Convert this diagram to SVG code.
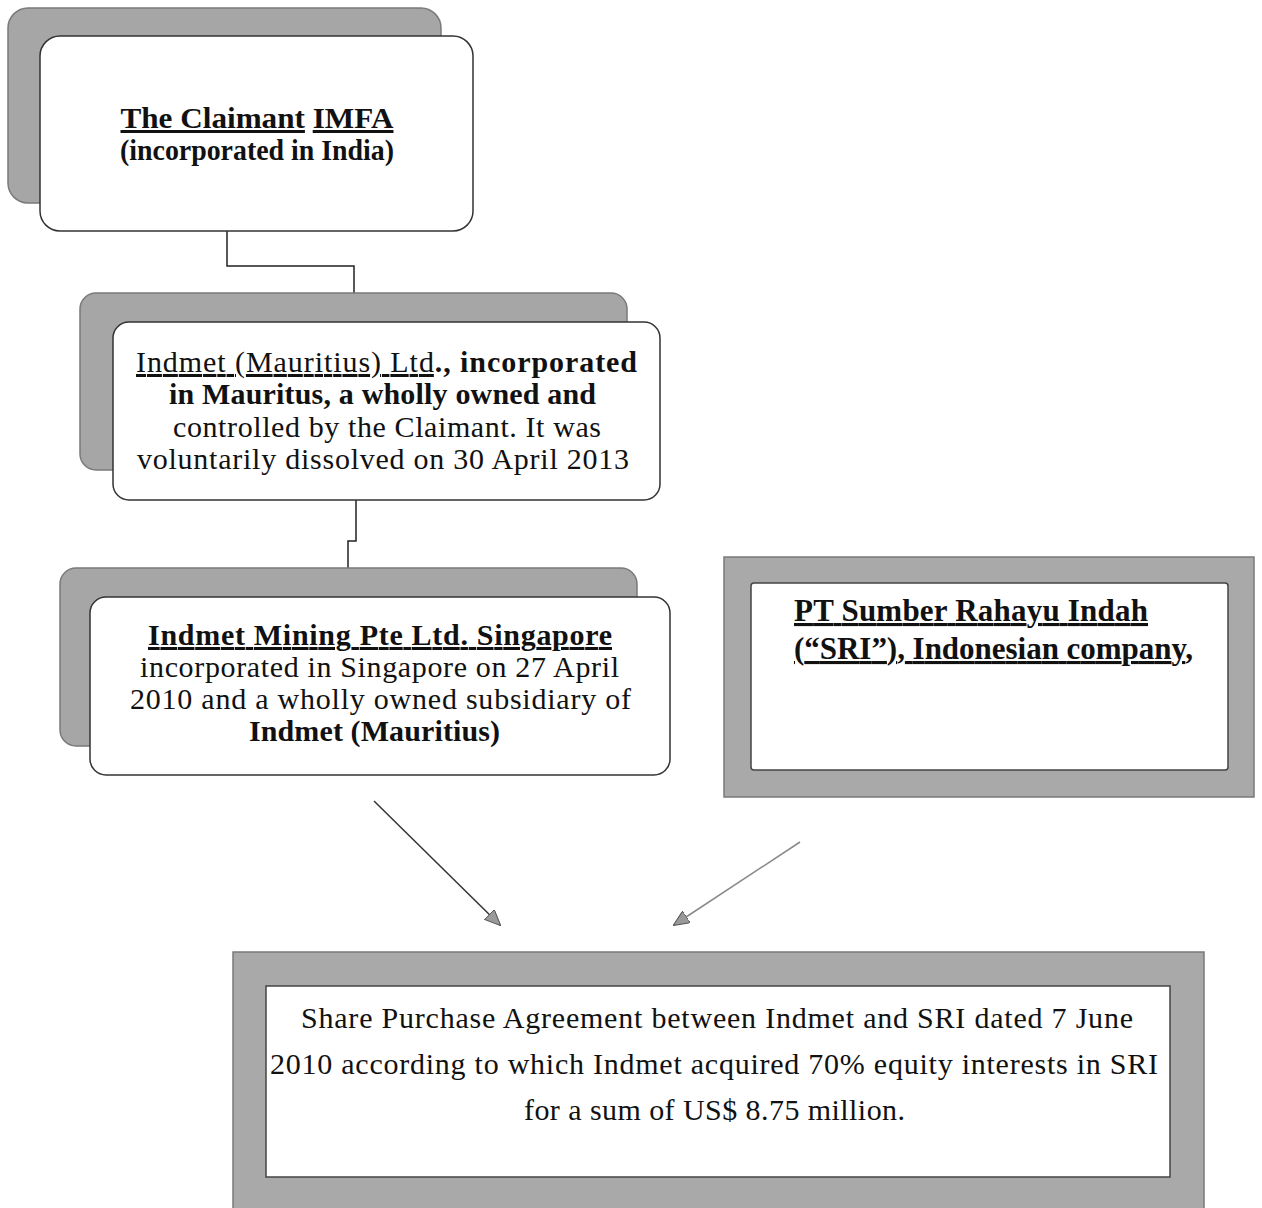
<svg xmlns="http://www.w3.org/2000/svg" width="1262" height="1208" viewBox="0 0 1262 1208">
<style>
  .shadow { fill: #a6a6a6; stroke: #7a7a7a; stroke-width: 1.5; }
  .card { fill: #ffffff; stroke: #333333; stroke-width: 1.5; }
  .frame { fill: #a9a9a9; stroke: #7a7a7a; stroke-width: 1.5; }
  .inner { fill: #ffffff; stroke: #444444; stroke-width: 1.5; }
  text { fill: #111111; }
  .conn { fill: none; stroke: #222222; stroke-width: 1.5; }
</style>
<defs>
  <marker id="ah" viewBox="0 0 16 14" refX="15" refY="7" markerWidth="16" markerHeight="14" markerUnits="userSpaceOnUse" orient="auto">
    <path d="M0,0 L16,7 L0,14 Z" fill="#9a9a9a" stroke="#555555" stroke-width="1"/>
  </marker>
</defs>

<rect width="1262" height="1208" fill="#ffffff"/>

<g id="connectors">
  <polyline class="conn" points="227,231 227,266 354,266 354,293"/>
  <polyline class="conn" points="356,500 356,541 348,541 348,568"/>
  <line x1="374" y1="801" x2="500" y2="925" stroke="#333333" stroke-width="1.5" marker-end="url(#ah)"/>
  <line x1="800" y1="842" x2="674" y2="925" stroke="#888888" stroke-width="1.5" marker-end="url(#ah)"/>
</g>

<g id="node-imfa" font-family="'Liberation Serif', 'Times New Roman', serif" font-size="30">
  <rect class="shadow" x="8" y="8" width="433" height="195" rx="20"/>
  <rect class="card" x="40" y="36" width="433" height="195" rx="20"/>
  <text x="257" y="128" text-anchor="middle" font-weight="bold" textLength="273" lengthAdjust="spacingAndGlyphs"><tspan text-decoration="underline">The Claimant</tspan> <tspan text-decoration="underline">IMFA</tspan></text>
  <text x="257" y="160" text-anchor="middle" font-weight="bold" textLength="274" lengthAdjust="spacingAndGlyphs">(incorporated in India)</text>
</g>

<g id="node-mauritius" font-family="'Liberation Serif', 'Times New Roman', serif" font-size="30">
  <rect class="shadow" x="80" y="293" width="547" height="177" rx="16"/>
  <rect class="card" x="113" y="322" width="547" height="178" rx="16"/>
  <text x="386.5" y="372" text-anchor="middle" textLength="501" lengthAdjust="spacing"><tspan text-decoration="underline">Indmet (Mauritius) Ltd</tspan><tspan font-weight="bold">., incorporated</tspan></text>
  <text x="382.5" y="404" text-anchor="middle" font-weight="bold" textLength="427" lengthAdjust="spacing">in Mauritus, a wholly owned and</text>
  <text x="387" y="437" text-anchor="middle" textLength="428" lengthAdjust="spacing">controlled by the Claimant. It was</text>
  <text x="383" y="469" text-anchor="middle" textLength="492" lengthAdjust="spacing">voluntarily dissolved on 30 April 2013</text>
</g>

<g id="node-singapore" font-family="'Liberation Serif', 'Times New Roman', serif" font-size="30">
  <rect class="shadow" x="60" y="568" width="577" height="178" rx="16"/>
  <rect class="card" x="90" y="597" width="580" height="178" rx="16"/>
  <text x="380" y="645" text-anchor="middle" font-weight="bold" text-decoration="underline" textLength="464" lengthAdjust="spacing">Indmet Mining Pte Ltd. Singapore</text>
  <text x="379.5" y="677" text-anchor="middle" textLength="479" lengthAdjust="spacing">incorporated in Singapore on 27 April</text>
  <text x="380.5" y="709" text-anchor="middle" textLength="501" lengthAdjust="spacing">2010 and a wholly owned subsidiary of</text>
  <text x="374.5" y="741" text-anchor="middle" font-weight="bold" textLength="251" lengthAdjust="spacing">Indmet (Mauritius)</text>
</g>

<g id="node-sri" font-family="'Liberation Serif', 'Times New Roman', serif" font-size="31">
  <rect class="frame" x="724" y="557" width="530" height="240"/>
  <rect class="inner" x="751" y="583" width="477" height="187" rx="3"/>
  <text x="794" y="621" font-weight="bold" text-decoration="underline" textLength="354" lengthAdjust="spacing">PT Sumber Rahayu Indah</text>
  <text x="794" y="659" font-weight="bold" textLength="399" lengthAdjust="spacing"><tspan text-decoration="underline">(“SRI”), Indonesian company</tspan>,</text>
</g>

<g id="node-spa" font-family="'Liberation Serif', 'Times New Roman', serif" font-size="30">
  <rect class="frame" x="233" y="952" width="971" height="258"/>
  <rect class="inner" x="266" y="986" width="904" height="191"/>
  <text x="717" y="1028" text-anchor="middle" textLength="832" lengthAdjust="spacing">Share Purchase Agreement between Indmet and SRI dated 7 June</text>
  <text x="714" y="1074" text-anchor="middle" textLength="888" lengthAdjust="spacing">2010 according to which Indmet acquired 70% equity interests in SRI</text>
  <text x="714.5" y="1120" text-anchor="middle" textLength="381" lengthAdjust="spacing">for a sum of US$ 8.75 million.</text>
</g>
</svg>
